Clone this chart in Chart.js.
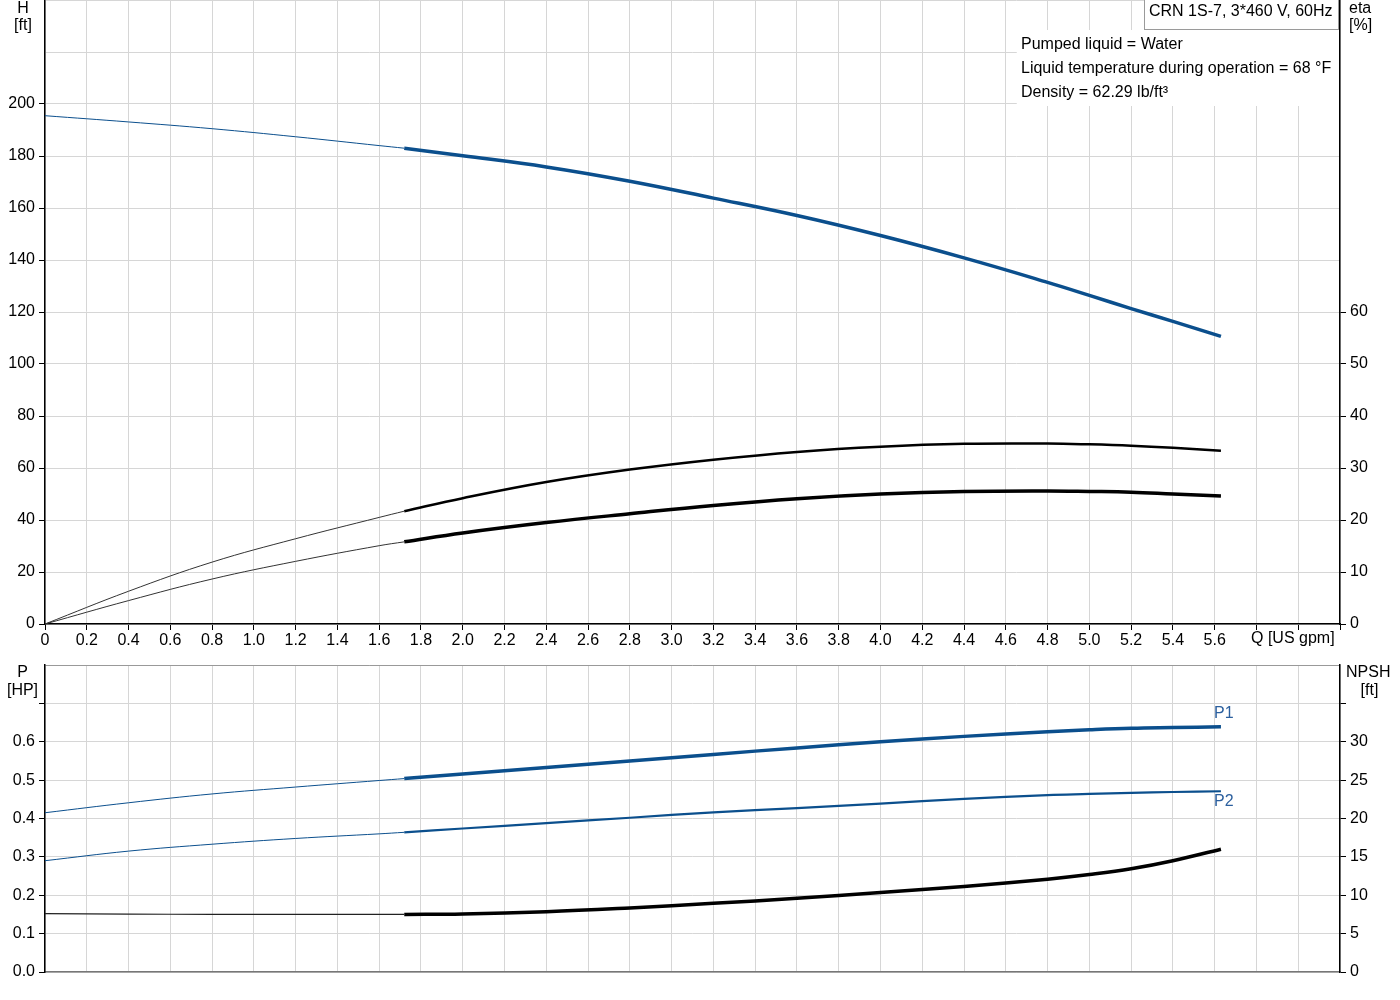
<!DOCTYPE html>
<html>
<head>
<meta charset="utf-8">
<script src="https://cdn.jsdelivr.net/npm/chart.js@4.4.1/dist/chart.umd.min.js"></script>
<style>
  body { margin: 0; background: #fff; font-family: "Liberation Sans", Arial, sans-serif; }
  #wrap { position: relative; width: 1400px; height: 1000px; overflow: hidden; }
  .box { position: absolute; }
  .lbl { position: absolute; font-size: 16px; color: #000; line-height: 18px; white-space: nowrap; }
</style>
</head>
<body>
<div id="wrap">
  <div class="box" style="left:0;top:0;width:1400px;height:660px"><canvas id="top"></canvas></div>
  <div class="box" style="left:0;top:660px;width:1400px;height:340px"><canvas id="bottom"></canvas></div>

  <div class="lbl" style="left:0;width:46px;top:-1px;text-align:center">H</div>
  <div class="lbl" style="left:0;width:46px;top:16px;text-align:center">[ft]</div>
  <div class="lbl" style="left:1349px;top:-1px">eta</div>
  <div class="lbl" style="left:1349px;top:16px">[%]</div>
  <div class="lbl" style="left:1251px;top:629px">Q [US gpm]</div>

  <div class="lbl" style="left:0;width:45px;top:663px;text-align:center">P</div>
  <div class="lbl" style="left:0;width:45px;top:681px;text-align:center">[HP]</div>
  <div class="lbl" style="left:1346px;top:663px">NPSH</div>
  <div class="lbl" style="left:1346px;width:47px;top:681px;text-align:center">[ft]</div>

  <div class="lbl" style="left:1214px;top:704px;color:#2b5f9e">P1</div>
  <div class="lbl" style="left:1214px;top:792px;color:#2b5f9e">P2</div>

  <div class="box" style="left:1017px;top:30px;width:322px;height:76px;background:#fff"></div>
  <div class="lbl" style="left:1021px;top:35px">Pumped liquid = Water</div>
  <div class="lbl" style="left:1021px;top:59px">Liquid temperature during operation = 68 °F</div>
  <div class="lbl" style="left:1021px;top:83px">Density = 62.29 lb/ft³</div>
  <div class="box" style="left:1144px;top:-1px;width:193px;height:29px;background:#fff;border:1px solid #9a9a9a"></div>
  <div class="lbl" style="left:1149px;top:2px">CRN 1S-7, 3*460 V, 60Hz</div>
</div>

<script>
// flow (US gpm): thin part of the curves and the thick (operating) part
const qThin  = [0, 0.4, 0.8, 1.2, 1.6, 1.72];
const qThick = [1.72, 2.0, 2.4, 2.8, 3.2, 3.6, 4.0, 4.4, 4.8, 5.0, 5.2, 5.4, 5.63];

// head H [ft]
const hThin = [195.5, 193.1, 190.5, 187.4, 184.0, 183.0];
const hThick = [183.0, 180.1, 175.8, 170.3, 163.8, 157.1, 149.4, 140.8, 131.4, 126.4, 121.3, 116.4, 110.6];

// efficiency eta [%] (pump, total)
const etaThin = [0, 6.3, 11.9, 16.4, 20.5, 21.7];
const etaThick = [21.7, 24.2, 27.3, 29.7, 31.6, 33.1, 34.1, 34.65, 34.7, 34.55, 34.3, 33.9, 33.3];
const etaTotThin = [0, 4.5, 8.65, 12.05, 15.06, 15.8];
const etaTotThick = [15.8, 17.5, 19.5, 21.2, 22.8, 24.1, 25.0, 25.5, 25.6, 25.5, 25.35, 25.0, 24.6];

// power P1, P2 [HP]
const p1Thin = [0.415, 0.441, 0.464, 0.482, 0.499, 0.504];
const p1Thick = [0.504, 0.516, 0.533, 0.550, 0.567, 0.584, 0.600, 0.614, 0.626, 0.631, 0.635, 0.637, 0.639];
const p2Thin = [0.290, 0.315, 0.333, 0.348, 0.360, 0.364];
const p2Thick = [0.364, 0.374, 0.388, 0.402, 0.416, 0.427, 0.439, 0.451, 0.461, 0.464, 0.467, 0.469, 0.471];

// NPSH [ft]
const npshThin = [7.6, 7.55, 7.5, 7.5, 7.5, 7.5];
const npshThick = [7.5, 7.55, 7.85, 8.35, 8.95, 9.6, 10.35, 11.15, 12.1, 12.7, 13.45, 14.5, 16.0];

const BLUE = "#0b4f8d";
const GRID = "#d6d6d6";
const FONT = { family: "'Liberation Sans', Arial, sans-serif", size: 16 };

function pts(qs, vals) {
    return qs.map((q, i) => ({ x: q, y: vals[i] }));
}

function line(qs, vals, color, width, axis) {
    return {
        data: pts(qs, vals),
        borderColor: color,
        borderWidth: width,
        pointRadius: 0,
        fill: false,
        tension: 0.4,
        yAxisID: axis
    };
}

// tick marks only where the axis has labels
function tickCol(limit) {
    return c => (c.tick && c.tick.value <= limit + 1e-9) ? "#000" : "rgba(0,0,0,0)";
}

function noPad(w) {
    return s => { s.width = w; s.paddingTop = 0; s.paddingBottom = 0; };
}

Chart.defaults.animation = false;

new Chart(document.getElementById("top"), {
    type: "line",
    data: {
        datasets: [
            line(qThin, hThin, BLUE, 1, "yH"),
            line(qThick, hThick, BLUE, 3.5, "yH"),
            line(qThin, etaThin, "#333", 1, "yE"),
            line(qThick, etaThick, "#000", 2.5, "yE"),
            line(qThin, etaTotThin, "#333", 1, "yE"),
            line(qThick, etaTotThick, "#000", 3.5, "yE")
        ]
    },
    options: {
        responsive: true,
        maintainAspectRatio: false,
        layout: { padding: 0 },
        plugins: { legend: { display: false }, tooltip: { enabled: false } },
        scales: {
            x: {
                type: "linear", min: 0, max: 6.2,
                ticks: {
                    stepSize: 0.2, autoSkip: false, maxRotation: 0, padding: 1,
                    color: "#000", font: FONT,
                    callback: v => v > 5.61 ? "" : (v === 0 ? "0" : v.toFixed(1))
                },
                grid: { color: GRID, tickColor: "#000", tickLength: 6 },
                border: { color: "#000", width: 1.5 },
                afterFit: s => { s.height = 36; s.paddingLeft = 0; s.paddingRight = 0; }
            },
            yH: {
                position: "left", min: 0, max: 240,
                ticks: { stepSize: 20, padding: 4, color: "#000", font: FONT,
                         callback: v => v <= 200 ? v : "" },
                grid: { color: GRID, tickColor: tickCol(200), tickLength: 6 },
                border: { color: "#000", width: 1.5 },
                afterFit: noPad(45)
            },
            yE: {
                position: "right", min: 0, max: 120,
                ticks: { stepSize: 10, padding: 4, color: "#000", font: FONT,
                         callback: v => v <= 60 ? v : "" },
                grid: { drawOnChartArea: false, tickColor: tickCol(60), tickLength: 6 },
                border: { color: "#000", width: 1.5 },
                afterFit: noPad(60)
            }
        }
    }
});

new Chart(document.getElementById("bottom"), {
    type: "line",
    data: {
        datasets: [
            line(qThin, p1Thin, BLUE, 1, "yP"),
            line(qThick, p1Thick, BLUE, 3.5, "yP"),
            line(qThin, p2Thin, BLUE, 1, "yP"),
            line(qThick, p2Thick, BLUE, 2.2, "yP"),
            line(qThin, npshThin, "#222", 1.2, "yN"),
            line(qThick, npshThick, "#000", 3.5, "yN")
        ]
    },
    options: {
        responsive: true,
        maintainAspectRatio: false,
        layout: { padding: { top: 5 } },
        plugins: { legend: { display: false }, tooltip: { enabled: false } },
        scales: {
            x: {
                type: "linear", min: 0, max: 6.2,
                ticks: { stepSize: 0.2, display: false },
                grid: { color: GRID, drawTicks: false },
                border: { color: "#777", width: 1.5 },
                afterFit: s => { s.height = 28; s.paddingLeft = 0; s.paddingRight = 0; }
            },
            yP: {
                position: "left", min: 0, max: 0.8,
                ticks: { stepSize: 0.1, padding: 4, color: "#000", font: FONT,
                         callback: v => v <= 0.6001 ? v.toFixed(1) : "" },
                grid: {
                    color: c => (c.tick && c.tick.value > 0.79) ? "#999" : GRID,
                    tickColor: tickCol(0.7), tickLength: 6
                },
                border: { color: "#000", width: 1.5 },
                afterFit: noPad(45)
            },
            yN: {
                position: "right", min: 0, max: 40,
                ticks: { stepSize: 5, padding: 4, color: "#000", font: FONT,
                         callback: v => v <= 30 ? v : "" },
                grid: { drawOnChartArea: false, tickColor: tickCol(35), tickLength: 6 },
                border: { color: "#000", width: 1.5 },
                afterFit: noPad(60)
            }
        }
    }
});
</script>
</body>
</html>
